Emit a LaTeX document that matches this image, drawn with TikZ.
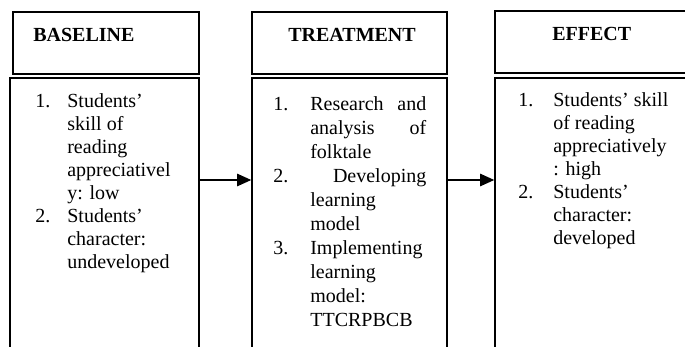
\documentclass[tikz,border=0pt]{standalone}
\usepackage{fontspec}
\setmainfont{Liberation Serif}
\usetikzlibrary{arrows.meta,fit}

\tikzset{
  box/.style={draw, line width=0.9pt, rectangle, inner sep=0pt},
  headtext/.style={anchor=base west, inner sep=0pt, font=\fontsize{12}{13.8}\selectfont\bfseries},
  listtext/.style={anchor=base west, inner sep=0pt, font=\fontsize{12}{13.8}\selectfont},
  arr/.style={-{Triangle[length=8.5pt,width=7.5pt]}, line width=0.8pt}
}

\begin{document}
\begin{tikzpicture}[x=0.6pt,y=-0.6pt]
        \useasboundingbox (0,0) rectangle (685,347);
        \clip (0,0) rectangle (685,347);

        % Coordinates
        \coordinate (A) at (13, 12);
        \coordinate (B) at (199, 74);
        \coordinate (C) at (10, 78);
        \coordinate (D) at (199, 380);
        \coordinate (E) at (252, 12);
        \coordinate (F) at (447, 74);
        \coordinate (G) at (252, 78);
        \coordinate (H) at (447, 380);
        \coordinate (I) at (495, 11);
        \coordinate (J) at (700, 73);
        \coordinate (K) at (495, 78);
        \coordinate (L) at (700, 380);
        \coordinate (ar) at (0, 180);

        % Boxes
        \node[box, fit={(A) (B)}] (head1) {};
        \node[box, fit={(C) (D)}] (body1) {};
        \node[box, fit={(E) (F)}] (head2) {};
        \node[box, fit={(G) (H)}] (body2) {};
        \node[box, fit={(I) (J)}] (head3) {};
        \node[box, fit={(K) (L)}] (body3) {};

        % Headings
        \node[headtext] (baseline) at (33, 42) {BASELINE};
        \node[headtext] (treatment) at (288, 42) {TREATMENT};
        \node[headtext] (effect) at (552, 41) {EFFECT};

        % Lists
        \node[listtext] (list1) at (35, 108) {%
          \begin{tabular}[t]{@{}p{19.2pt}@{}l@{}}
            1. & Students’\\
               & skill of\\
               & reading\\
               & appreciativel\\
               & y: low\\
            2. & Students’\\
               & character:\\
               & undeveloped
          \end{tabular}};
        \node[listtext, font=\fontsize{12}{14.4}\selectfont] (list2) at (273, 111) {%
          \begin{tabular}[t]{@{}p{22.2pt}@{}l@{}}
            1. & \makebox[69.6pt][s]{Research and}\\
               & \makebox[69.6pt][s]{analysis of}\\
               & folktale\\
            2. & \makebox[69.6pt][r]{Developing}\\
               & learning\\
               & model\\
            3. & Implementing\\
               & learning\\
               & model:\\
               & TTCRPBCB
          \end{tabular}};
        \node[listtext] (list3) at (518, 107) {%
          \begin{tabular}[t]{@{}p{21pt}@{}l@{}}
            1. & Students’ skill\\
               & of reading\\
               & appreciatively\\
               & : high\\
            2. & Students’\\
               & character:\\
               & developed
          \end{tabular}};

        % Arrows
        \draw[arr] (body1.east |- ar) -- (body2.west |- ar);
        \draw[arr] (body2.east |- ar) -- (body3.west |- ar);
    \end{tikzpicture}
\end{document}
